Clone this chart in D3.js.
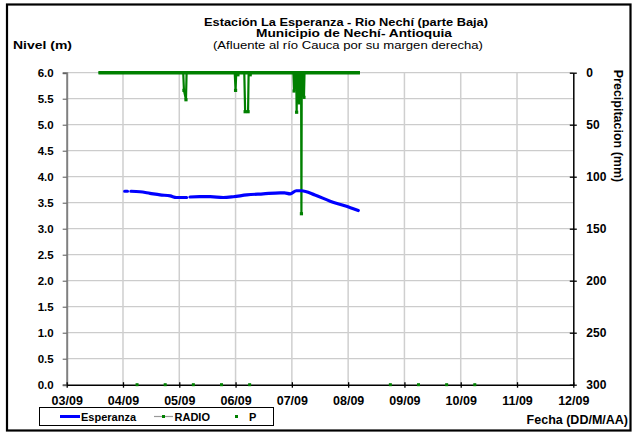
<!DOCTYPE html>
<html><head><meta charset="utf-8">
<script src="https://cdn.jsdelivr.net/npm/d3@7"></script>
<style>
body{margin:0;background:#fff;}
text{font-family:"Liberation Sans",Arial,sans-serif;}
</style></head>
<body>
<svg id="chart" width="635" height="433"></svg>
<script>
// ---- data ----
const titleLines = ["Estación La Esperanza - Rio Nechí  (parte Baja)", "Municipio de Nechí- Antioquia", "(Afluente al río Cauca por su margen derecha)"];
const xTickDays = [3,4,5,6,7,8,9,10,11,12];
const xTickLabels = ["03/09","04/09","05/09","06/09","07/09","08/09","09/09","10/09","11/09","12/09"];
const levelTicks = [0,0.5,1,1.5,2,2.5,3,3.5,4,4.5,5,5.5,6];
const rainTicks = [0,50,100,150,200,250,300];

// Esperanza level (m) — day of September; null = gap
const levelDays   = [4.03, 4.08, 4.10, 4.14, 4.30, 4.48, 4.66, 4.84, 4.95, 5.13, 5.15, 5.19, 5.36, 5.55, 5.78, 5.96, 6.20, 6.49, 6.79, 6.87, 6.97, 7.08, 7.17, 7.41, 7.68, 7.94, 8.18];
const levelValues = [3.72, 3.72, null, 3.72, 3.71, 3.68, 3.65, 3.63, 3.60, 3.60, null, 3.61, 3.615, 3.615, 3.60, 3.615, 3.65, 3.67, 3.69, 3.69, 3.67, 3.73, 3.73, 3.65, 3.53, 3.44, 3.35];

// RADIO precipitation (mm)
const radioDays   = [3.565, 5.07, 5.083, 5.119, 5.13, 5.985, 6.0, 6.012, 6.035, 6.042, 6.05, 6.155, 6.17, 6.222, 6.232, 6.252, 6.26, 6.268, 7.028, 7.04, 7.05, 7.078, 7.085, 7.093, 7.118, 7.125, 7.133, 7.164, 7.17, 7.176, 7.208, 7.215, 7.225, 8.21];
const radioValues = [0,     0,    17,    26,    0,    0,     17,  0,     0,     2,     0,    0,     37.5, 37.5,  0,     0,     2,    0,     0,     17.6, 0,    0,     38,    0,     0,     29,    0,     0,     135.6, 0,    0,     23.7,  0,     0];

// P (m)
const pDays   = [4.25, 4.75, 5.25, 5.75, 6.25, 8.75, 9.25, 9.75, 10.25];
const pValues = [0, 0, 0, 0, 0, 0, 0, 0, 0];

// ---- chart ----
const svg = d3.select("#chart");
const L = 66.7, R = 573.3, T = 72.7, B = 384.7;
const x = d3.scaleLinear().domain([3,12]).range([L,R]);
const y = d3.scaleLinear().domain([0,6]).range([B,T]);
const y2 = d3.scaleLinear().domain([0,300]).range([T,B]);
const green = "#008000", blue = "#0000ff";

// outer border
svg.append("rect").attr("x",7).attr("y",4.5).attr("width",623.5).attr("height",426)
  .attr("fill","#fff").attr("stroke","#000").attr("stroke-width",2.2);

// gridlines
svg.append("g").selectAll("line").data(levelTicks.filter(d=>d>0)).join("line")
  .attr("x1",L).attr("x2",R).attr("y1",d=>y(d)).attr("y2",d=>y(d))
  .attr("stroke","#c0c0c0").attr("stroke-width",1);
svg.append("g").selectAll("line").data(xTickDays.slice(1,-1)).join("line")
  .attr("x1",d=>x(d)).attr("x2",d=>x(d)).attr("y1",T).attr("y2",B)
  .attr("stroke","#cfcfcf").attr("stroke-width",1.5);

// left axis
const yAxis = d3.axisLeft(y).tickValues(levelTicks).tickFormat(d3.format(".1f")).tickSize(4).tickPadding(9);
const gy = svg.append("g").attr("transform",`translate(${L},0)`).call(yAxis);
gy.select(".domain").attr("stroke","#808080").attr("stroke-width",2);
gy.selectAll(".tick line").attr("stroke","#555");
gy.selectAll("text").attr("font-size",11.5).attr("font-weight","bold").attr("fill","#000")
  .style("font-family","'Liberation Sans',Arial,sans-serif");

// right axis
const y2Axis = d3.axisRight(y2).tickValues(rainTicks).tickSize(0).tickPadding(13);
const gy2 = svg.append("g").attr("transform",`translate(${R},0)`).call(y2Axis);
gy2.select(".domain").attr("stroke","#000").attr("stroke-width",1.5);
gy2.selectAll(".tick").append("line").attr("x1",-3.5).attr("x2",3.5).attr("stroke","#000").attr("stroke-width",1.3);
gy2.selectAll("text").attr("font-size",12).attr("font-weight","bold").attr("fill","#000")
  .style("font-family","'Liberation Sans',Arial,sans-serif");

// bottom axis
const xAxis = d3.axisBottom(x).tickValues(xTickDays).tickFormat((d,i)=>xTickLabels[i]).tickSize(0).tickPadding(11);
const gx = svg.append("g").attr("transform",`translate(0,${B})`).call(xAxis);
gx.select(".domain").attr("stroke","#000").attr("stroke-width",1.5);
gx.selectAll(".tick").append("line").attr("y1",-2.5).attr("y2",3).attr("stroke","#000").attr("stroke-width",1.3);
gx.selectAll("text").attr("font-size",12.5).attr("font-weight","bold").attr("fill","#000")
  .style("font-family","'Liberation Sans',Arial,sans-serif");

// RADIO line (right axis)
const radio = radioDays.map((d,i)=>({d, v: radioValues[i]}));
svg.append("path").datum(radio)
  .attr("d", d3.line().x(p=>x(p.d)).y(p=>y2(p.v)))
  .attr("fill","none").attr("stroke",green).attr("stroke-width",2.2).attr("stroke-linejoin","miter");
svg.append("line").attr("x1",x(radioDays[0])).attr("x2",x(radioDays[radioDays.length-1]))
  .attr("y1",y2(0)).attr("y2",y2(0)).attr("stroke",green).attr("stroke-width",3.5);
svg.append("g").selectAll("rect").data(radio.filter(p=>p.v>0)).join("rect")
  .attr("x",p=>x(p.d)-1.6).attr("y",p=>y2(p.v)-1.6).attr("width",3.2).attr("height",3.2).attr("fill",green);

// Esperanza line
const level = levelDays.map((d,i)=>({d, v: levelValues[i]}));
svg.append("path").datum(level)
  .attr("d", d3.line().defined(p=>p.v!==null).x(p=>x(p.d)).y(p=>y(p.v)).curve(d3.curveMonotoneX))
  .attr("fill","none").attr("stroke",blue).attr("stroke-width",3.2).attr("stroke-linecap","round");

// P markers
svg.append("g").selectAll("rect").data(pDays.map((d,i)=>({d, v:pValues[i]}))).join("rect")
  .attr("x",p=>x(p.d)-1.5).attr("y",p=>y(p.v)-1.5).attr("width",3).attr("height",3).attr("fill",green);

// titles
function fitText(tx, ty, str, size, weight, len, anchor){
  return svg.append("text").attr("x",tx).attr("y",ty).attr("text-anchor",anchor||"middle")
    .attr("font-size",size).attr("font-weight",weight)
    .attr("textLength",len).attr("lengthAdjust","spacingAndGlyphs").text(str);
}
fitText(346, 25.5, titleLines[0], 10.5, "bold", 284);
fitText(354, 37, titleLines[1], 10.5, "bold", 196);
fitText(348, 48.5, titleLines[2], 10.5, "normal", 270);
fitText(13, 48.5, "Nivel (m)", 11.5, "bold", 59, "start");
svg.append("text").attr("transform","translate(614,126) rotate(90)").attr("text-anchor","middle")
  .attr("font-size",12.5).attr("font-weight","bold").text("Precipitacion (mm)");
svg.append("text").attr("x",628).attr("y",424).attr("text-anchor","end").attr("font-size",12.5).attr("font-weight","bold").text("Fecha (DD/M/AA)");

// legend
const lg = svg.append("g");
lg.append("rect").attr("x",39.5).attr("y",407.5).attr("width",234).attr("height",18).attr("fill","#fff").attr("stroke","#000").attr("stroke-width",1);
lg.append("line").attr("x1",60).attr("x2",80).attr("y1",416.5).attr("y2",416.5).attr("stroke",blue).attr("stroke-width",3);
lg.append("text").attr("x",81).attr("y",420.5).attr("font-size",11).attr("font-weight","bold").text("Esperanza");
lg.append("line").attr("x1",154).attr("x2",173).attr("y1",416.5).attr("y2",416.5).attr("stroke","#999").attr("stroke-width",1.2);
lg.append("rect").attr("x",162).attr("y",415).attr("width",3).attr("height",3).attr("fill",green);
lg.append("text").attr("x",174.5).attr("y",420.5).attr("font-size",11).attr("font-weight","bold").text("RADIO");
lg.append("rect").attr("x",235).attr("y",415).attr("width",3).attr("height",3).attr("fill",green);
lg.append("text").attr("x",249).attr("y",420.5).attr("font-size",11).attr("font-weight","bold").text("P");
</script>
</body></html>
